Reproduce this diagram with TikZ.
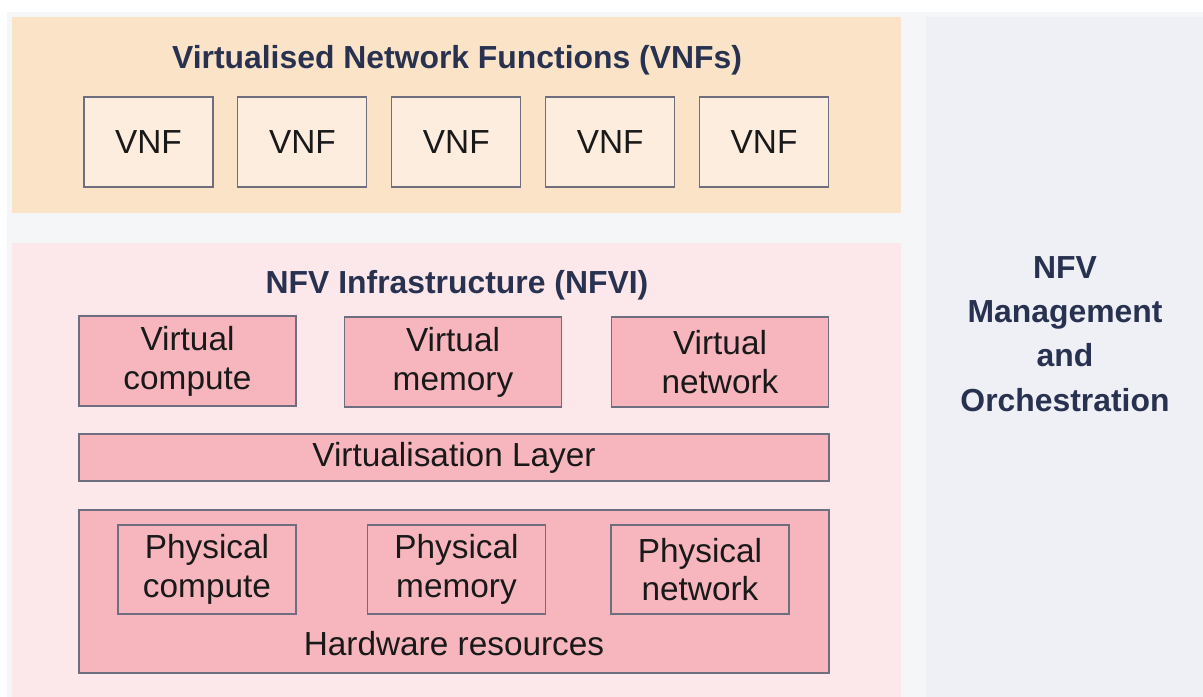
\documentclass[tikz,border=0pt]{standalone}
\usepackage{fontspec}
\setmainfont{Liberation Sans}
\usetikzlibrary{positioning,shadows}
\definecolor{pagegray}{HTML}{F5F6F8}
\definecolor{vnfband}{HTML}{FAE3C7}
\definecolor{vnffill}{HTML}{FDEDDE}
\definecolor{nfvipink}{HTML}{FCE7EA}
\definecolor{boxpink}{HTML}{F7B6BE}
\definecolor{manogray}{HTML}{EFF0F5}
\definecolor{edgegray}{HTML}{6E6E7E}
\definecolor{navy}{HTML}{283250}
\tikzset{
  base/.style    = {rectangle, inner sep=0pt, align=center, text=black!90,
                    font=\fontsize{33.5}{39}\selectfont},
  region/.style  = {base, anchor=north west},
  box/.style     = {base, draw=edgegray, line width=1.1pt,
                    drop shadow={shadow xshift=0.6pt, shadow yshift=-0.9pt, opacity=0.35}},
  vnf/.style     = {box, fill=vnffill, minimum width=129bp, minimum height=90bp},
  virt/.style    = {box, fill=boxpink, minimum width=217bp, minimum height=90bp},
  phys/.style    = {box, fill=boxpink, minimum width=178bp, minimum height=89bp},
  wide/.style    = {box, fill=boxpink, minimum width=750bp},
  heading/.style = {base, text=navy, font=\bfseries\fontsize{32}{44.5}\selectfont}
}

\begin{document}
\begin{tikzpicture}[x=1bp,y=-1bp]
\useasboundingbox (0,0) rectangle (1203,697);

% backgrounds
\fill[pagegray] (7,12) rectangle (1203,697);
\node[region, fill=vnfband,   minimum width=889bp, minimum height=196bp] (vnflayer) at (12,17) {};
\node[region, fill=nfvipink,  minimum width=889bp, minimum height=454bp] (nfvi)     at (12,243) {};
\node[region, fill=manogray,  minimum width=277bp, minimum height=680bp] (mano)     at (926,17) {};

% VNF layer
\node[heading] (vnftitle) at (457,60) {Virtualised Network Functions (VNFs)};
\node[vnf] (vnf1) at (148.5,142) {VNF};
\node[vnf, right=23.8bp of vnf1] (vnf2) {VNF};
\node[vnf, right=23.8bp of vnf2] (vnf3) {VNF};
\node[vnf, right=23.8bp of vnf3] (vnf4) {VNF};
\node[vnf, right=23.8bp of vnf4] (vnf5) {VNF};

% NFVI
\node[heading] (nfvititle) at (457,285) {NFV Infrastructure (NFVI)};
\node[virt] (vcompute) at (187.5,361) {Virtual\\compute};
\node[virt] (vmemory)  at (453,362)   {Virtual\\memory};
\node[virt] (vnetwork) at (720,362)   {Virtual\\network};
\node[wide, minimum height=47bp] (vlayer) at (454,457.5) {Virtualisation Layer};
\node[wide, minimum height=163bp] (hw) at (454,591.5) {};
\node[phys] (pcompute) at (207,569.5)   {Physical\\compute};
\node[phys] (pmemory)  at (456.5,569.5) {Physical\\memory};
\node[phys] (pnetwork) at (700,569.5)   {Physical\\network};
\node[base] (hwlabel) at (454,644) {Hardware resources};

% MANO
\node[heading] (manotitle) at (1065,334) {NFV\\Management\\and\\Orchestration};

\end{tikzpicture}
\end{document}
